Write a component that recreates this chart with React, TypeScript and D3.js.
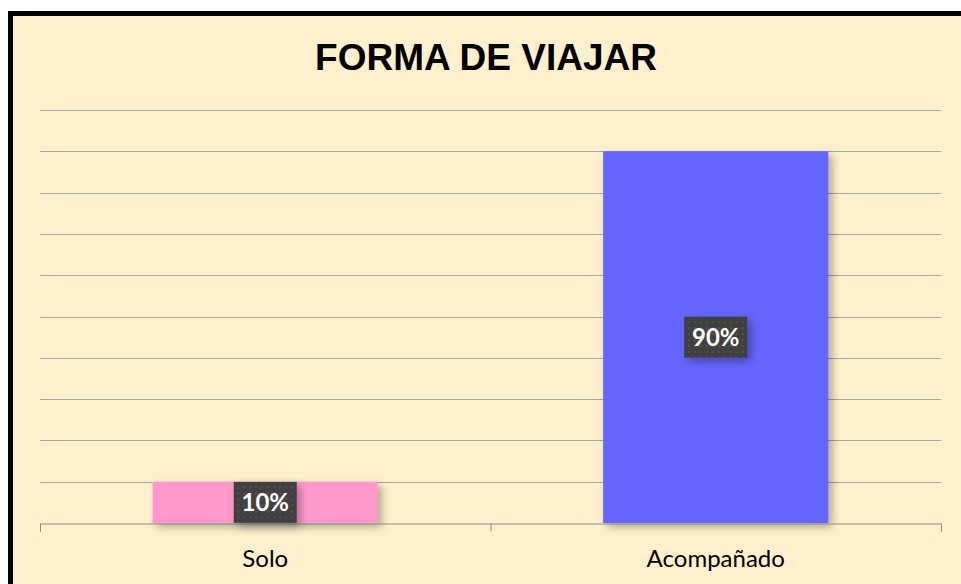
import * as d3 from "d3"
import { useRef, useEffect } from "react"

const categories = ["Solo", "Acompañado"]
const values = [10, 90]
const barColors = ["#FF99CC", "#6666FF"]
const title = "FORMA DE VIAJAR"

const App = () => {
  const svgRef = useRef<SVGSVGElement>(null)
  const width = 961
  const height = 584
  const left = 40
  const right = 941
  const top = 110
  const bottom = 523

  useEffect(() => {
    const svg = d3.select(svgRef.current)
    svg.selectAll("*").remove()

    const defs = svg.append("defs")
    const pat = defs
      .append("pattern")
      .attr("id", "dots")
      .attr("width", 6)
      .attr("height", 6)
      .attr("patternUnits", "userSpaceOnUse")
    pat.append("rect").attr("width", 6).attr("height", 6).attr("fill", "#3f3f3f")
    pat.append("rect").attr("x", 2).attr("y", 2).attr("width", 2).attr("height", 2).attr("fill", "#535353")
    const sh = defs.append("filter").attr("id", "shadow").attr("x", "-20%").attr("y", "-20%").attr("width", "150%").attr("height", "150%")
    sh.append("feDropShadow").attr("dx", 4).attr("dy", 4).attr("stdDeviation", 4).attr("flood-color", "#000").attr("flood-opacity", 0.3)

    // background + border
    svg.append("rect").attr("width", width).attr("height", height).attr("fill", "#fff")
    svg
      .append("rect")
      .attr("x", 10.5)
      .attr("y", 13.5)
      .attr("width", width + 20)
      .attr("height", height + 20)
      .attr("fill", "#FFF0CD")
      .attr("stroke", "#000")
      .attr("stroke-width", 5)

    svg
      .append("text")
      .attr("x", 486)
      .attr("y", 70)
      .attr("text-anchor", "middle")
      .attr("font-family", "Liberation Sans, Arial, sans-serif")
      .attr("font-weight", "bold")
      .attr("font-size", 37)
      .attr("fill", "#000")
      .text(title)

    const x = d3.scaleBand().domain(categories).range([left, right])
    const y = d3.scaleLinear().domain([0, 100]).range([bottom, top])

    // gridlines
    svg
      .append("g")
      .selectAll("line")
      .data(y.ticks(10).filter((t) => t > 0))
      .join("line")
      .attr("x1", left)
      .attr("x2", right)
      .attr("y1", (d) => Math.round(y(d)) + 0.5)
      .attr("y2", (d) => Math.round(y(d)) + 0.5)
      .attr("stroke", "#A6A6A6")
      .attr("stroke-width", 1)

    // bars
    const bw = x.bandwidth() * 0.5
    svg
      .append("g")
      .selectAll("rect")
      .data(values)
      .join("rect")
      .attr("x", (d, i) => x(categories[i])! + (x.bandwidth() - bw) / 2)
      .attr("y", (d) => y(d))
      .attr("width", bw)
      .attr("height", (d) => bottom - y(d))
      .attr("fill", (d, i) => barColors[i])
      .attr("filter", "url(#shadow)")

    // x axis
    const axis = svg
      .append("g")
      .attr("transform", `translate(0, ${bottom + 0.5})`)
      .call(
        d3
          .axisBottom(x)
          .tickSize(8)
          .tickSizeOuter(8)
          .tickFormat(() => "")
      )
    axis.selectAll("line, path").attr("stroke", "#8C8C8C")
    axis.selectAll(".tick").remove()
    axis
      .selectAll("line.sep")
      .data(d3.range(categories.length + 1))
      .join("line")
      .attr("class", "sep")
      .attr("x1", (i) => left + i * x.step() + 0.5)
      .attr("x2", (i) => left + i * x.step() + 0.5)
      .attr("y1", 0)
      .attr("y2", 8)
      .attr("stroke", "#8C8C8C")

    svg
      .append("g")
      .selectAll("text")
      .data(categories)
      .join("text")
      .attr("x", (d) => x(d)! + x.bandwidth() / 2)
      .attr("y", 567)
      .attr("text-anchor", "middle")
      .attr("font-family", "Lato, Open Sans, sans-serif")
      .attr("font-size", 24)
      .attr("fill", "#000")
      .text((d) => d)

    // data labels
    const lab = svg
      .append("g")
      .selectAll("g")
      .data(values)
      .join("g")
      .attr("transform", (d, i) => `translate(${x(categories[i])! + x.bandwidth() / 2}, ${(y(d) + bottom) / 2})`)
    lab
      .append("rect")
      .attr("x", -31.5)
      .attr("y", -20.5)
      .attr("width", 63)
      .attr("height", 41)
      .attr("fill", "url(#dots)")
      .attr("filter", "url(#shadow)")
    lab
      .append("text")
      .attr("y", 9)
      .attr("text-anchor", "middle")
      .attr("font-family", "Lato, Open Sans, sans-serif")
      .attr("font-weight", "bold")
      .attr("font-size", 24)
      .attr("fill", "#fff")
      .text((d) => `${d}%`)
  }, [])

  return (
    <svg
      ref={svgRef}
      width={width}
      height={height}
      style={{ position: "absolute", left: 0, top: 0, display: "block" }}
    ></svg>
  )
}

export default App
